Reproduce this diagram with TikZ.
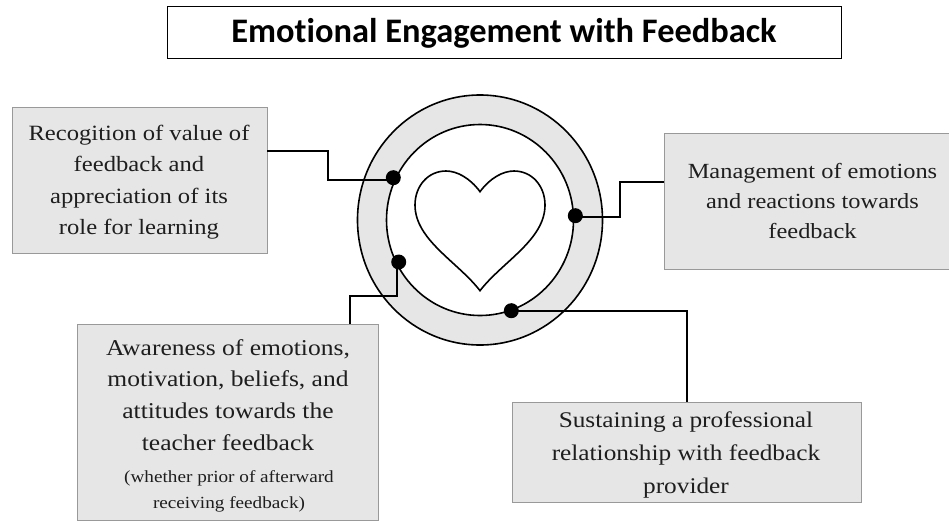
\documentclass[tikz,border=0pt]{standalone}
\usepackage{fontspec}
\setmainfont{Liberation Serif}[FakeStretch=1.13]
\newfontfamily\titlefont{Carlito}[Ligatures=NoCommon]
\definecolor{boxg}{RGB}{231,230,230}
\definecolor{ink}{RGB}{30,30,30}
\tikzset{
 infobox/.style={draw=black!40,line width=.5pt,fill=boxg},
 words/.style={align=center,text=ink,inner sep=0pt,anchor=north},
 conn/.style={draw=black,line width=1.6pt},
 ring/.style={draw=black,line width=1.6pt},
 dot/.style={circle,fill=black,inner sep=0pt,minimum size=15pt},
 titlebox/.style={draw=black,line width=.7pt,fill=white,text=black,minimum width=674,minimum height=52},
 titletext/.style={font=\titlefont\bfseries\fontsize{34.4}{38}\selectfont,text=black,inner sep=0pt}
}
\begin{document}
\begin{tikzpicture}[x=1pt,y=-1pt]
\useasboundingbox (0,0) rectangle (949,520);
\node[titlebox] (title) at (504,32) {};
\node[titletext] (titlet) at (504,33) {Emotional Engagement with Feedback};
\draw[ring,fill=boxg] (480,220) ellipse [x radius=122.5,y radius=125];
\draw[ring,fill=white] (480,220) ellipse [x radius=93.5,y radius=95.5];
\path[ring,fill=white] (480,191.7) .. controls (470,178) and (457,171) .. (446,171) .. controls (428,171) and (415,186) .. (415,205) .. controls (415,240) and (458,262) .. (480,290.7) .. controls (502,262) and (545,240) .. (545,205) .. controls (545,186) and (532,171) .. (514,171) .. controls (503,171) and (490,178) .. (480,191.7) -- cycle;
\node[infobox,minimum width=255,minimum height=146] (a) at (139.5,180) {};
\node[words,font=\fontsize{21.8}{31.3}\selectfont] (at) at (139,125) {Recogition of value of\\feedback and\\appreciation of its\\role for learning};
\node[infobox,minimum width=285,minimum height=136] (b) at (806.5,201) {};
\node[words,font=\fontsize{21.6}{30}\selectfont] (bt) at (812.5,163) {Management of emotions\\and reactions towards\\feedback};
\node[infobox,minimum width=301,minimum height=196,anchor=north] (c) at (228,324) {};
\node[words,font=\fontsize{22.6}{31.7}\selectfont] (ct) at (228,339) {Awareness of emotions,\\motivation, beliefs, and\\attitudes towards the\\teacher feedback};
\node[words,font=\fontsize{17}{26.5}\selectfont] (cs) at (229,470) {(whether prior of afterward\\receiving feedback)};
\node[infobox,minimum width=349,minimum height=100] (d) at (686.5,452) {};
\node[words,font=\fontsize{22.4}{33}\selectfont] (dt) at (686,412) {Sustaining a professional\\relationship with feedback\\provider};
\node[dot] (da) at (393.3,177.7) {};
\node[dot] (db) at (575.3,215.7) {};
\node[dot] (dc) at (398.7,262) {};
\node[dot] (dd) at (511.3,310.7) {};
\draw[conn] (a.east |- 0,151) -- (328,151) -- (328,180) -- (da.center |- 0,180);
\draw[conn] (b.west |- 0,182) -- (620,182) -- (620,216.7) -- (db.center |- 0,216.7);
\draw[conn] (c.north -| 350,0) -- (350,296) -- (396.7,296) -- (dc.center -| 396.7,0);
\draw[conn] (d.north -| 687,0) -- (687,310.7) -- (dd.center);
\end{tikzpicture}
\end{document}
